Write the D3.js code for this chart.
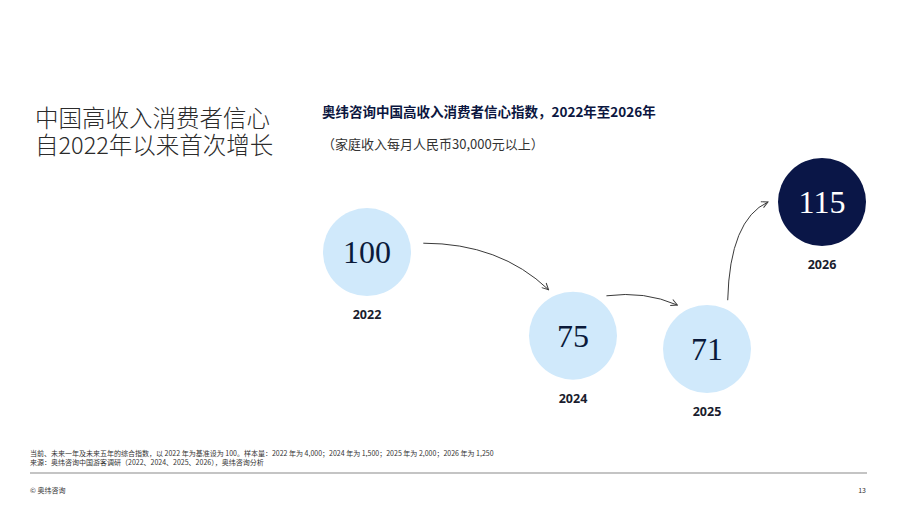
<!DOCTYPE html>
<html>
<head>
<meta charset="utf-8">
<script src="https://d3js.org/d3.v7.min.js"></script>
<style>
  body { margin: 0; background: #fff; }
  svg text { font-family: "Noto Sans CJK SC", "Noto Sans", sans-serif; }
</style>
</head>
<body>
<div id="chart"></div>
<script>
// data
const years = ["2022", "2024", "2025", "2026"];
const values = [100, 75, 71, 115];
const highlight = ["2026"];

const headline = ["中国高收入消费者信心", "自2022年以来首次增长"];
const chartTitle = "奥纬咨询中国高收入消费者信心指数，2022年至2026年";
const chartSubtitle = "（家庭收入每月人民币30,000元以上）";
const notes = [
  "当前、未来一年及未来五年的综合指数，以 2022 年为基准设为 100。样本量：2022 年为 4,000；2024 年为 1,500；2025 年为 2,000；2026 年为 1,250",
  "来源：奥纬咨询中国游客调研（2022、2024、2025、2026），奥纬咨询分析"
];

const width = 900, height = 507;
const r = 44;

const svg = d3.select("#chart").append("svg")
  .attr("width", width)
  .attr("height", height);

// bubbles sit on a value scale vertically; horizontal slots are hand-spaced on the slide
const x = d3.scaleOrdinal().domain(years).range([367, 573, 707, 822]);
const y = d3.scaleLinear().domain([71, 115]).range([349, 202]);

const pts = years.map((yr, i) => ({ year: yr, value: values[i], cx: x(yr), cy: y(values[i]) }));

// headline, two lines in one block
svg.append("text")
  .attr("x", 35)
  .attr("y", 127)
  .attr("font-size", 23.5)
  .attr("font-weight", 300)
  .attr("fill", "#2b2b2b")
  .selectAll("tspan")
  .data(headline)
  .join("tspan")
  .attr("x", 35)
  .attr("dy", (d, i) => i === 0 ? 0 : 27)
  .text(d => d);

svg.append("text")
  .attr("x", 322).attr("y", 117)
  .attr("font-size", 13.5)
  .attr("font-weight", 700)
  .attr("fill", "#0b1640")
  .text(chartTitle);

svg.append("text")
  .attr("x", 322).attr("y", 149)
  .attr("font-size", 13)
  .attr("fill", "#333")
  .text(chartSubtitle);

// arrows between consecutive bubbles: anchor angles (deg) and gap from the rim
const links = [
  { from: 0, to: 1, a0: -9, a1: -118, g0: 13, g1: 8, fx: 0.61, fy: 0 },
  { from: 1, to: 2, a0: -50, a1: -124, g0: 8, g1: 9, fx: 0.54, fy: -0.55 },
  { from: 2, to: 3, a0: -67, a1: 180, g0: 9, g1: 10, fx: 0.05, fy: 0.82 }
];

svg.append("defs").append("marker")
  .attr("id", "head")
  .attr("viewBox", "0 0 10 10")
  .attr("refX", 9).attr("refY", 5)
  .attr("markerWidth", 8).attr("markerHeight", 8)
  .attr("markerUnits", "userSpaceOnUse")
  .attr("orient", "auto")
  .append("path")
  .attr("d", "M1,1 L9,5 L1,9")
  .attr("fill", "none")
  .attr("stroke", "#3a3a3a")
  .attr("stroke-width", 1.2);

const rad = Math.PI / 180;
svg.append("g").selectAll("path")
  .data(links)
  .join("path")
  .attr("fill", "none")
  .attr("stroke", "#3a3a3a")
  .attr("stroke-width", 1)
  .attr("marker-end", "url(#head)")
  .attr("d", l => {
    const p = pts[l.from], q = pts[l.to];
    const sx = p.cx + (r + l.g0) * Math.cos(l.a0 * rad), sy = p.cy + (r + l.g0) * Math.sin(l.a0 * rad);
    const ex = q.cx + (r + l.g1) * Math.cos(l.a1 * rad), ey = q.cy + (r + l.g1) * Math.sin(l.a1 * rad);
    const path = d3.path();
    path.moveTo(sx, sy);
    path.quadraticCurveTo(sx + l.fx * (ex - sx), sy + l.fy * (ey - sy), ex, ey);
    return path.toString();
  });

// bubbles
const node = svg.append("g").selectAll("g")
  .data(pts)
  .join("g")
  .attr("transform", d => `translate(${d.cx},${d.cy})`);

node.append("circle")
  .attr("r", r)
  .attr("fill", d => highlight.includes(d.year) ? "#0a1647" : "#d0e9fb");

node.append("text")
  .attr("text-anchor", "middle")
  .attr("dy", "0.34em")
  .style("font-family", "'Liberation Serif', 'DejaVu Serif', serif")
  .attr("font-size", 32)
  .attr("fill", d => highlight.includes(d.year) ? "#fff" : "#0b1a3a")
  .text(d => d3.format("d")(d.value));

node.append("text")
  .attr("text-anchor", "middle")
  .attr("y", r + 19)
  .attr("dy", "0.35em")
  .style("font-family", "'Noto Sans', sans-serif")
  .attr("font-size", 12.5)
  .attr("font-weight", 700)
  .attr("fill", "#1a1d2e")
  .text(d => d.year);

// footnotes
svg.append("g").selectAll("text")
  .data(notes)
  .join("text")
  .attr("x", 30)
  .attr("y", (d, i) => 456 + i * 9)
  .attr("font-size", 7)
  .attr("fill", "#333")
  .text(d => d);

svg.append("line")
  .attr("x1", 30).attr("x2", 867)
  .attr("y1", 473).attr("y2", 473)
  .attr("stroke", "#b0b0b0")
  .attr("stroke-width", 1.5);

svg.append("text")
  .attr("x", 30).attr("y", 493)
  .attr("font-size", 7)
  .attr("fill", "#333")
  .text("© 奥纬咨询");

svg.append("text")
  .attr("x", 866).attr("y", 493)
  .attr("text-anchor", "end")
  .attr("font-size", 7)
  .attr("fill", "#333")
  .text("13");
</script>
</body>
</html>
